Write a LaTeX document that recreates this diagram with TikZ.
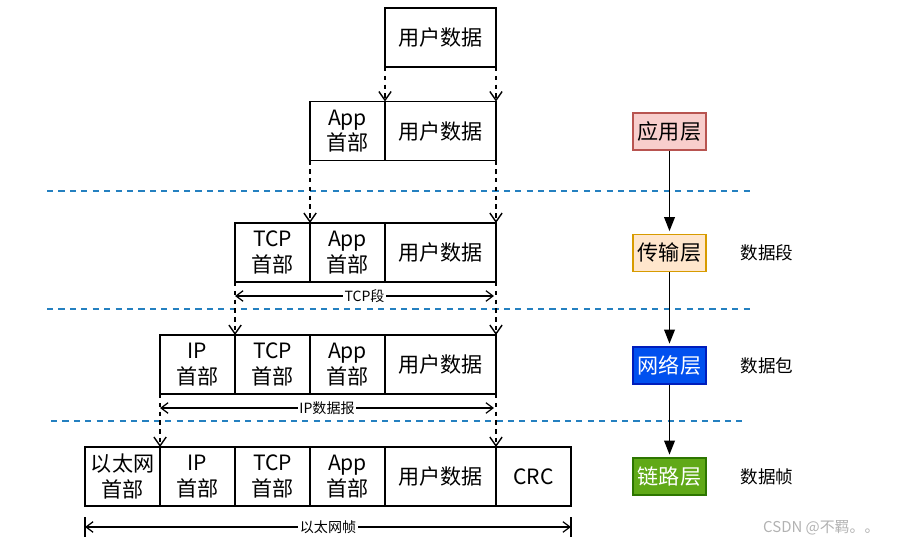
\documentclass[tikz,border=0pt]{standalone}
\usepackage{fontspec}
\newfontfamily\cjk{Noto Sans CJK SC}
\usepackage{tikz}
\usetikzlibrary{positioning, arrows.meta, calc}

\definecolor{cutblue}{RGB}{36,128,192}
\definecolor{appfill}{HTML}{F8CECC}
\definecolor{appline}{HTML}{B85450}
\definecolor{tranfill}{HTML}{FFE6CC}
\definecolor{tranline}{HTML}{D79B00}
\definecolor{netfill}{HTML}{0050EF}
\definecolor{netline}{HTML}{001DBC}
\definecolor{linkfill}{HTML}{60A917}
\definecolor{linkline}{HTML}{2D7600}

\begin{document}
\begin{tikzpicture}[x=0.02cm, y=-0.02cm,
    cell/.style={draw, line width=0.9pt, minimum width=1.5cm, minimum height=1.18cm, inner sep=0pt, outer sep=0pt, align=center, font=\cjk\fontsize{12}{14.5}\selectfont},
    data/.style={cell, minimum width=2.22cm},
    flow/.style={dash pattern=on 2.5pt off 2.5pt, line width=0.8pt, -{Straight Barb[length=5pt,width=7pt]}},
    span/.style={line width=0.7pt, {Straight Barb[length=4pt,width=6pt]}-{Straight Barb[length=4pt,width=6pt]}},
    spanlabel/.style={fill=white, inner sep=1pt, font=\cjk\fontsize{8}{9}\selectfont},
    cut/.style={dash pattern=on 3.5pt off 3pt, line width=0.8pt, cutblue},
    layer/.style={draw, line width=0.8pt, minimum width=1.46cm, minimum height=0.74cm, inner sep=0pt, font=\cjk\fontsize{12}{14}\selectfont},
    down/.style={line width=1.1pt, -{Triangle[length=8pt,width=6pt]}, shorten >=1.5pt},
    unit/.style={font=\cjk\fontsize{10}{12}\selectfont}]
    \useasboundingbox (0,0) rectangle (900,545);

    % Rows of the packet
    \node[data] (d1) at (440.5,37.5) {用户数据};

    \node[data] (d2) at (440.5,131) {用户数据};
    \node[cell, left=0pt of d2] (a2) {App\\首部};

    \node[data] (d3) at (440.5,252.5) {用户数据};
    \node[cell, left=0pt of d3] (a3) {App\\首部};
    \node[cell, left=0pt of a3] (t3) {TCP\\首部};

    \node[data] (d4) at (440.5,364.5) {用户数据};
    \node[cell, left=0pt of d4] (a4) {App\\首部};
    \node[cell, left=0pt of a4] (t4) {TCP\\首部};
    \node[cell, left=0pt of t4] (i4) {IP\\首部};

    \node[data] (d5) at (440.5,476.5) {用户数据};
    \node[cell, left=0pt of d5] (a5) {App\\首部};
    \node[cell, left=0pt of a5] (t5) {TCP\\首部};
    \node[cell, left=0pt of t5] (i5) {IP\\首部};
    \node[cell, left=0pt of i5] (e5) {以太网\\首部};
    \node[cell, right=0pt of d5] (c5) {CRC};

    % Layer cuts
    \draw[cut] (47,191) -- (750,191);
    \draw[cut] (47,309) -- (750,309);
    \draw[cut] (51,421) -- (745,421);

    % Encapsulation
    \draw[flow] (d1.south west) -- (d2.north west);
    \draw[flow] (d1.south east) -- (d2.north east);
    \draw[flow] (a2.south west) -- (a3.north west);
    \draw[flow] (d2.south east) -- (d3.north east);
    \draw[flow] (t3.south west) -- (t4.north west);
    \draw[flow] (d3.south east) -- (d4.north east);
    \draw[flow] (i4.south west) -- (i5.north west);
    \draw[flow] (d4.south east) -- (d5.north east);

    % Spans
    \draw[span] ($(t3.south west)+(0,14)$) -- node[spanlabel] {TCP段} ($(d3.south east)+(-2,14)$);
    \draw[span] ($(i4.south west)+(0,14)$) -- node[spanlabel] {IP数据报} ($(d4.south east)+(-2,14)$);
    \draw[line width=0.7pt] ($(e5.south west)+(0,11)$) -- +(0,20);
    \draw[line width=0.7pt] ($(c5.south east)+(0,11)$) -- +(0,20);
    \draw[span] ($(e5.south west)+(0,21)$) -- node[spanlabel] {以太网帧} ($(c5.south east)+(0,21)$);

    % Layers
    \node[layer, fill=appfill, draw=appline] (app) at (669.5,131.5) {应用层};
    \node[layer, fill=tranfill, draw=tranline] (tran) at (669.5,253) {传输层};
    \node[layer, fill=netfill, draw=netline, text=white] (net) at (669.5,365.5) {网络层};
    \node[layer, fill=linkfill, draw=linkline, text=white] (link) at (669.5,476.5) {链路层};
    \draw[down] (app) -- (tran);
    \draw[down] (tran) -- (net);
    \draw[down] (net) -- (link);

    \node[unit] (seg) at (767,253) {数据段};
    \node[unit] (pkt) at (767,365.5) {数据包};
    \node[unit] (frm) at (767,476.5) {数据帧};

    \node[font=\cjk\fontsize{8.5}{10}\selectfont, text=black!30, anchor=west] (mark) at (757,528) {CSDN @不羁。。};
\end{tikzpicture}
\end{document}
